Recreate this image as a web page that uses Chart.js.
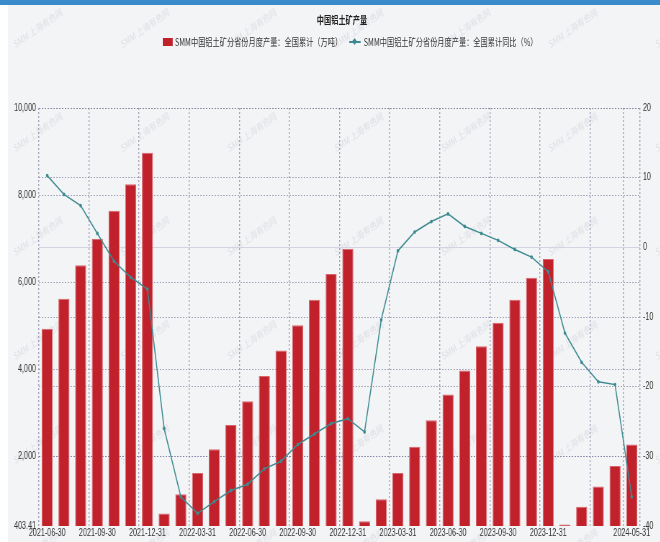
<!DOCTYPE html>
<html>
<head>
<meta charset="utf-8">
<script src="https://cdn.jsdelivr.net/npm/chart.js@4/dist/chart.umd.min.js"></script>
<style>
  body { margin: 0; background: #fff; width: 660px; height: 542px; overflow: hidden; position: relative; }
  #topbar { position: absolute; left: 0; top: 0; width: 660px; height: 5px; background: #3a8bcb; }
  #panel { position: absolute; left: 8px; top: 5px; width: 652px; height: 537px; background: #f3f4f6; }
  #wrap { position: absolute; left: 0; top: 0; width: 917px; height: 542px; transform: scaleX(0.72); transform-origin: 0 0; }
  #title { position: absolute; left: 375px; top: 12px; width: 200px; text-align: center;
           font: bold 10px 'Noto Sans CJK SC', sans-serif; color: #222; }
  #legend { position: absolute; left: 226px; top: 34px; display: flex; align-items: center; white-space: nowrap;
            font: 10px 'Noto Sans CJK SC', sans-serif; color: #333; }
  .sq { display: inline-block; width: 14px; height: 8px; background: #c1212b; margin-right: 3px; }
  .ln { display: inline-block; position: relative; width: 16px; height: 8px; margin: 0 4px 0 10px; }
  .ln:before { content: ''; position: absolute; left: 0; top: 3px; width: 16px; height: 2px; background: #3d8b91; }
  .ln:after { content: ''; position: absolute; left: 5px; top: 1px; width: 5px; height: 5px; background: #3d8b91; transform: rotate(45deg); }
</style>
</head>
<body>
<div id="topbar"></div>
<div id="panel"></div>
<div id="wrap">
  <canvas id="chart" width="917" height="542"></canvas>
  <div id="title">中国铝土矿产量</div>
  <div id="legend">
    <span class="sq"></span><span>SMM中国铝土矿分省份月度产量：全国累计（万吨）</span>
    <span class="ln"></span><span>SMM中国铝土矿分省份月度产量：全国累计同比（%）</span>
  </div>
</div>
<script>
// months (month-end dates)
const months = [
  '2021-06-30', '2021-07-31', '2021-08-31', '2021-09-30', '2021-10-31', '2021-11-30',
  '2021-12-31', '2022-01-31', '2022-02-28', '2022-03-31', '2022-04-30', '2022-05-31',
  '2022-06-30', '2022-07-31', '2022-08-31', '2022-09-30', '2022-10-31', '2022-11-30',
  '2022-12-31', '2023-01-31', '2023-02-28', '2023-03-31', '2023-04-30', '2023-05-31',
  '2023-06-30', '2023-07-31', '2023-08-31', '2023-09-30', '2023-10-31', '2023-11-30',
  '2023-12-31', '2024-01-31', '2024-02-29', '2024-03-31', '2024-04-30', '2024-05-31'
];

// 全国累计 (万吨)
const output = [
  4930, 5620, 6390, 6990, 7640, 8250,
  8970, 690, 1130, 1620, 2165, 2720,
  3265, 3845, 4435, 5015, 5600, 6190,
  6770, 510, 1020, 1620, 2220, 2830,
  3420, 3975, 4530, 5070, 5600, 6100,
  6535, 440, 845, 1310, 1780, 2275
];

// 全国累计同比 (%)
const yoy = [
  10.3, 7.6, 6.0, 2.0, -2.0, -4.3,
  -6.0, -26.0, -35.8, -38.2, -36.5, -34.9,
  -34.0, -31.8, -30.7, -28.3, -26.8, -25.3,
  -24.6, -26.5, -10.4, -0.5, 2.2, 3.7,
  4.8, 3.0, 2.0, 1.0, -0.3, -1.4,
  -3.5, -12.3, -16.5, -19.3, -19.7, -35.8
];

const xTickLabels = [
  '2021-06-30', '2021-09-30', '2021-12-31', '2022-03-31', '2022-06-30', '2022-09-30',
  '2022-12-31', '2023-03-31', '2023-06-30', '2023-09-30', '2023-12-31', '2024-05-31'
];
// months that get a vertical grid line
const xGridMonths = xTickLabels.concat(['2024-03-31']);
const leftTicks = [403.41, 2000, 4000, 6000, 8000, 10000];
const rightTicks = [-40, -30, -20, -10, 0, 10, 20];

const gridCol = 'rgba(110,110,150,0.6)';
const RED = '#c1212b';
const TEAL = '#3d8b91';

Chart.defaults.font.family = "'Liberation Sans', 'Noto Sans CJK SC', sans-serif";
Chart.defaults.font.size = 10;
Chart.defaults.color = '#333';

// faint "SMM 上海有色网" marks behind the plot
const watermark = {
  id: 'watermark',
  beforeDraw(chart) {
    const ctx = chart.ctx;
    ctx.save();
    ctx.font = "10px 'Noto Sans CJK SC', sans-serif";
    ctx.fillStyle = 'rgba(175,175,190,0.3)';
    ctx.textAlign = 'center';
    ctx.textBaseline = 'middle';
    for (let y = 28; y < 560; y += 104) {
      for (let x = 38; x < 700; x += 107) {
        ctx.save();
        ctx.translate(x / 0.72, y);
        ctx.rotate(-27 * Math.PI / 180);
        ctx.fillText('SMM 上海有色网', 0, 0);
        ctx.restore();
      }
    }
    ctx.restore();
  }
};

// solid light line at 0 on the right axis
const zeroLine = {
  id: 'zeroLine',
  beforeDatasetsDraw(chart) {
    const { ctx, chartArea } = chart;
    const y = Math.round(chart.scales.y1.getPixelForValue(0)) + 0.5;
    ctx.save();
    ctx.strokeStyle = '#d3d3e2';
    ctx.lineWidth = 1;
    ctx.beginPath();
    ctx.moveTo(chartArea.left, y);
    ctx.lineTo(chartArea.right, y);
    ctx.stroke();
    ctx.restore();
  }
};

new Chart(document.getElementById('chart'), {
  type: 'bar',
  data: {
    labels: months,
    datasets: [
      {
        type: 'line',
        label: 'SMM中国铝土矿分省份月度产量：全国累计同比（%）',
        data: yoy,
        yAxisID: 'y1',
        borderColor: TEAL,
        backgroundColor: TEAL,
        borderWidth: 1.5,
        pointRadius: 1.1,
        pointHoverRadius: 2,
        tension: 0,
        order: 0
      },
      {
        label: 'SMM中国铝土矿分省份月度产量：全国累计（万吨）',
        data: output,
        yAxisID: 'y',
        backgroundColor: RED,
        borderColor: '#d9656c',
        borderWidth: 1,
        barPercentage: 0.66,
        categoryPercentage: 1,
        order: 1
      }
    ]
  },
  options: {
    responsive: false,
    animation: false,
    layout: { padding: { top: 108, left: 0, right: 0, bottom: 0 } },
    plugins: {
      legend: { display: false },
      title: { display: false },
      tooltip: { enabled: false }
    },
    scales: {
      x: {
        offset: true,
        grid: {
          offset: true,
          drawTicks: false,
          lineWidth: 1.4,
          color: (c) => {
            if (c.index === undefined) return gridCol;
            return xGridMonths.includes(months[c.index]) ? gridCol : 'transparent';
          }
        },
        border: { display: false, dash: [2, 2] },
        ticks: {
          autoSkip: false,
          maxRotation: 0,
          minRotation: 0,
          padding: 1,
          color: '#333',
          callback: function (value, index) {
            const lab = months[index];
            return xTickLabels.includes(lab) ? lab : '';
          }
        },
        afterFit: (s) => { s.height = 16; }
      },
      y: {
        position: 'left',
        min: leftTicks[0],
        max: leftTicks[leftTicks.length - 1],
        afterBuildTicks: (s) => { s.ticks = leftTicks.map(v => ({ value: v })); },
        grid: {
          drawTicks: false,
          color: (c) => (c.tick && c.tick.value === leftTicks[0]) ? 'transparent' : gridCol
        },
        border: { display: false, dash: [2, 2] },
        ticks: {
          padding: 4,
          color: '#333',
          callback: (v) => v === leftTicks[0] ? '403.41' : v.toLocaleString('en-US')
        },
        afterFit: (s) => { s.width = 54; }
      },
      y1: {
        position: 'right',
        min: rightTicks[0],
        max: rightTicks[rightTicks.length - 1],
        afterBuildTicks: (s) => { s.ticks = rightTicks.map(v => ({ value: v })); },
        grid: {
          drawTicks: false,
          color: (c) => (c.tick && (c.tick.value === 0 || c.tick.value === -40)) ? 'transparent' : gridCol
        },
        border: { display: false, dash: [2, 2] },
        ticks: { padding: 4, color: '#333' },
        afterFit: (s) => { s.width = 28; }
      }
    }
  },
  plugins: [watermark, zeroLine]
});
</script>
</body>
</html>
